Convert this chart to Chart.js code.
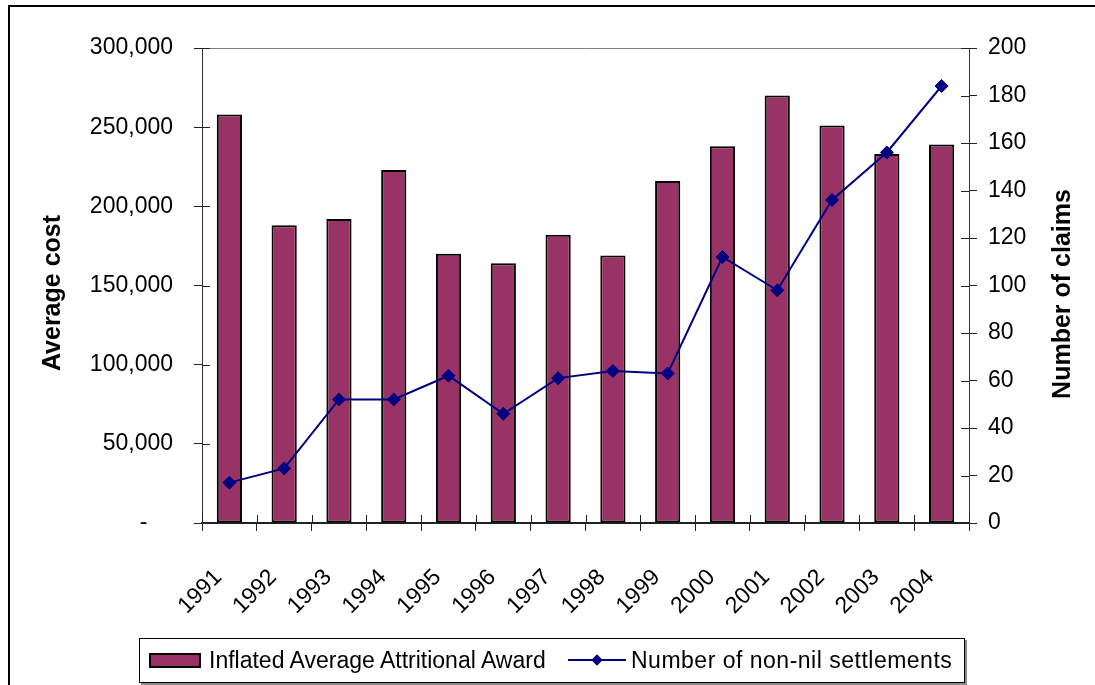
<!DOCTYPE html>
<html>
<head>
<meta charset="utf-8">
<script src="https://cdn.jsdelivr.net/npm/chart.js@4.4.1/dist/chart.umd.min.js"></script>
<style>
  html, body { margin: 0; padding: 0; background: #fff; }
  #wrap { position: relative; width: 1095px; height: 685px; overflow: hidden; }
  #frame { position: absolute; left: 8px; top: 5px; width: 1200px; height: 800px; border-left: 2px solid #000; border-top: 2px solid #000; }
  canvas { position: absolute; left: 0; top: 0; }
  #legend { position: absolute; left: 139px; top: 638px; width: 824px; height: 43px; border: 1px solid #000; box-shadow: 2px 2px 0 #8a8a8a; background: #fff; font-family: "Liberation Sans", Arial, sans-serif; font-size: 23px; color: #000; }
  #legend .sw { position: absolute; left: 9px; top: 14px; width: 52px; height: 15px; box-sizing: border-box; background: #993366; border: 2px solid #000; }
  #legend .t { position: absolute; top: 0; line-height: 43px; white-space: nowrap; }
  #legend .ln { position: absolute; left: 428px; top: 20px; width: 58px; height: 2px; background: #000080; }
  #legend .dm { position: absolute; left: 453px; top: 17px; width: 8px; height: 8px; background: #000080; transform: rotate(45deg); }
</style>
</head>
<body>
<div id="wrap">
  <div id="frame"></div>
  <canvas id="c" width="1095" height="685"></canvas>
  <div id="legend">
    <span class="sw"></span>
    <span class="t" style="left:69px;">Inflated Average Attritional Award</span>
    <span class="ln"></span>
    <span class="dm"></span>
    <span class="t" style="left:491px;letter-spacing:0.5px;">Number of non-nil settlements</span>
  </div>
</div>
<script>
// ---- data ----
const years = ['1991','1992','1993','1994','1995','1996','1997','1998','1999','2000','2001','2002','2003','2004'];
const avgAward = [258000, 188000, 192000, 223000, 170000, 164000, 182000, 169000, 216000, 238000, 270000, 251000, 233000, 239000];
const claims = [17, 23, 52, 52, 62, 46, 61, 64, 63, 112, 98, 136, 156, 184];
const barLabel = 'Inflated Average Attritional Award';
const lineLabel = 'Number of non-nil settlements';
const leftTitle = 'Average cost';
const rightTitle = 'Number of claims';

const FONT = '"Liberation Sans", Arial, sans-serif';

const extras = {
  id: 'extras',
  afterDraw(chart) {
    const ctx = chart.ctx;
    const a = chart.chartArea;
    const x = chart.scales.x, yL = chart.scales.y, yR = chart.scales.y1;
    ctx.save();
    // plot area top border
    ctx.strokeStyle = '#808080';
    ctx.lineWidth = 1;
    ctx.beginPath();
    ctx.moveTo(a.left, Math.round(a.top) + 0.5);
    ctx.lineTo(a.right, Math.round(a.top) + 0.5);
    ctx.stroke();
    // inner halves of crossing tick marks
    ctx.strokeStyle = '#222';
    ctx.beginPath();
    yL.ticks.forEach(t => {
      const py = Math.round(yL.getPixelForValue(t.value)) + 0.5;
      ctx.moveTo(a.left, py); ctx.lineTo(a.left + 8, py);
    });
    yR.ticks.forEach(t => {
      const py = Math.round(yR.getPixelForValue(t.value)) + 0.5;
      ctx.moveTo(a.right, py); ctx.lineTo(a.right - 8, py);
    });
    const step = x.width / years.length;
    for (let i = 0; i <= years.length; i++) {
      const px = Math.round(x.left + i * step) + 0.5;
      ctx.moveTo(px, a.bottom); ctx.lineTo(px, a.bottom - 8);
    }
    ctx.stroke();
    // axis titles (both read bottom-to-top)
    ctx.fillStyle = '#000';
    ctx.font = 'bold 25px ' + FONT;
    ctx.textAlign = 'center';
    ctx.textBaseline = 'alphabetic';
    ctx.save();
    ctx.translate(60, 293);
    ctx.rotate(-Math.PI / 2);
    ctx.fillText(leftTitle, 0, 0);
    ctx.restore();
    ctx.save();
    ctx.translate(1070, 294);
    ctx.rotate(-Math.PI / 2);
    ctx.fillText(rightTitle, 0, 0);
    ctx.restore();
    ctx.restore();
  }
};

new Chart(document.getElementById('c'), {
  data: {
    labels: years,
    datasets: [
      {
        type: 'bar',
        label: barLabel,
        data: avgAward,
        yAxisID: 'y',
        backgroundColor: '#993366',
        borderColor: '#000',
        borderWidth: 2,
        borderSkipped: false,
        categoryPercentage: 1,
        barPercentage: 0.46,
        order: 2
      },
      {
        type: 'line',
        label: lineLabel,
        data: claims,
        yAxisID: 'y1',
        borderColor: '#000080',
        backgroundColor: '#000080',
        borderWidth: 2,
        pointStyle: 'rectRot',
        pointRadius: 6.5,
        pointBorderWidth: 1,
        pointBackgroundColor: '#000080',
        pointBorderColor: '#000080',
        tension: 0,
        order: 1
      }
    ]
  },
  options: {
    responsive: false,
    animation: false,
    events: [],
    layout: { padding: { top: 48, left: 0, right: 0, bottom: 0 } },
    plugins: { legend: { display: false }, tooltip: { enabled: false } },
    scales: {
      x: {
        type: 'category',
        offset: true,
        grid: { display: true, drawOnChartArea: false, drawTicks: true, tickLength: 8, tickColor: '#222', offset: true },
        border: { display: true, color: '#222', width: 2 },
        ticks: { color: '#000', font: { family: FONT, size: 23 }, minRotation: 45, maxRotation: 45, autoSkip: false, padding: 33, labelOffset: -11 },
        afterFit(s) { s.height = 162; }
      },
      y: {
        type: 'linear',
        position: 'left',
        min: 0, max: 300000,
        grid: { display: true, drawOnChartArea: false, drawTicks: true, tickLength: 8, tickColor: '#222' },
        border: { display: true, color: '#333', width: 1 },
        ticks: {
          stepSize: 50000, color: '#000', font: { family: FONT, size: 23 }, padding: 21,
          callback: v => v === 0 ? '-    ' : v.toLocaleString('en-US')
        },
        afterFit(s) { s.width = 202; }
      },
      y1: {
        type: 'linear',
        position: 'right',
        min: 0, max: 200,
        grid: { display: true, drawOnChartArea: false, drawTicks: true, tickLength: 8, tickColor: '#222' },
        border: { display: true, color: '#333', width: 1 },
        ticks: { stepSize: 20, color: '#000', font: { family: FONT, size: 23 }, padding: 11 },
        afterFit(s) { s.width = 126; }
      }
    }
  },
  plugins: [extras]
});
</script>
</body>
</html>
